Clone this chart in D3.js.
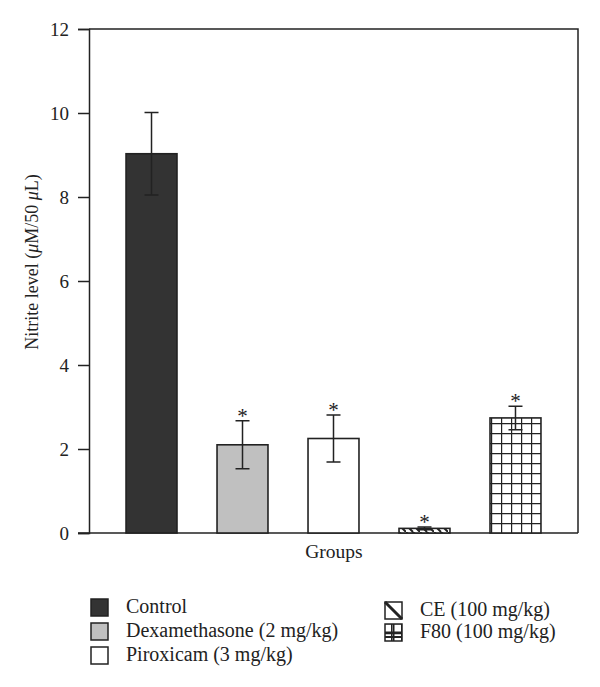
<!DOCTYPE html>
<html><head><meta charset="utf-8">
<script src="https://cdn.jsdelivr.net/npm/d3@7"></script>
<style>body{margin:0;background:#fff}</style>
</head><body>
<svg id="chart" width="600" height="687"></svg>
<script>
const categories = ["Control", "Dexamethasone (2 mg/kg)", "Piroxicam (3 mg/kg)", "CE (100 mg/kg)", "F80 (100 mg/kg)"];
const values = [9.03, 2.10, 2.25, 0.11, 2.74];
const errors = [0.98, 0.57, 0.56, 0.03, 0.28];
const significant = [false, true, true, true, true];
const yTicks = [0, 2, 4, 6, 8, 10, 12];

(function () {
const svg = d3.select("#chart");
const font = "'Liberation Serif', 'DejaVu Serif', serif";
const ink = "#222";
const pL = 89, pR = 578, pT = 29, pB = 533;

const defs = svg.append("defs");
const diag = defs.append("pattern").attr("id", "diag").attr("patternUnits", "userSpaceOnUse")
  .attr("width", 14).attr("height", 14).attr("x", 0).attr("y", 0);
diag.append("rect").attr("width", 14).attr("height", 14).attr("fill", "#fff");
diag.append("path").attr("d", "M-7,0 L7,14 M0,0 L14,14 M7,0 L21,14 M-7,-14 L21,14")
  .attr("stroke", ink).attr("stroke-width", 2);
const grid = defs.append("pattern").attr("id", "grid").attr("patternUnits", "userSpaceOnUse")
  .attr("width", 10).attr("height", 10).attr("x", 1).attr("y", 3);
grid.append("rect").attr("width", 10).attr("height", 10).attr("fill", "#fff");
grid.append("path").attr("d", "M0,0 L10,0 M0,0 L0,10").attr("stroke", ink).attr("stroke-width", 2.4);

const fills = ["#333333", "#c0c0c0", "#ffffff", "url(#diag)", "url(#grid)"];

const x = d3.scaleBand().domain(categories).range([pL, pR]).paddingInner(0.44).paddingOuter(0.407);
const y = d3.scaleLinear().domain([0, 12]).range([pB, pT]);

svg.append("path").attr("d", `M${pL},${pT} H${pR} V${pB}`)
  .attr("fill", "none").attr("stroke", ink).attr("stroke-width", 1.5);

const yAxis = svg.append("g").attr("transform", `translate(${pL},0)`)
  .call(d3.axisLeft(y).tickValues(yTicks).tickSize(11).tickPadding(9).tickFormat(d3.format("d")));
yAxis.select(".domain").attr("stroke", ink).attr("stroke-width", 1.5);
yAxis.selectAll(".tick line").attr("stroke", ink).attr("stroke-width", 1.5);
yAxis.selectAll(".tick text").attr("font-family", font).attr("font-size", 19).attr("fill", ink);

const xAxis = svg.append("g").attr("transform", `translate(0,${pB})`)
  .call(d3.axisBottom(x).tickSize(0).tickFormat(""));
xAxis.select(".domain").attr("d", `M${pL - 11},0 H${pR}`).attr("stroke", ink).attr("stroke-width", 1.5);

svg.append("g").selectAll("rect").data(categories).join("rect")
  .attr("x", d => x(d)).attr("width", x.bandwidth())
  .attr("y", (d, i) => y(values[i])).attr("height", (d, i) => y(0) - y(values[i]))
  .attr("fill", (d, i) => fills[i]).attr("stroke", ink).attr("stroke-width", 1.6);

const eb = svg.append("g").attr("stroke", ink).attr("stroke-width", 1.5).attr("fill", "none");
categories.forEach((c, i) => {
  const cx = x(c) + x.bandwidth() / 2;
  const hi = y(values[i] + errors[i]), lo = y(values[i] - errors[i]);
  eb.append("path").attr("d", `M${cx},${hi} V${lo} M${cx - 7},${hi} H${cx + 7} M${cx - 7},${lo} H${cx + 7}`);
  if (significant[i]) {
    svg.append("text").attr("x", cx).attr("y", hi + 2).attr("text-anchor", "middle")
      .attr("font-family", font).attr("font-size", 21).attr("fill", ink).text("*");
  }
});

svg.append("text").attr("x", 334).attr("y", 558).attr("text-anchor", "middle")
  .attr("font-family", font).attr("font-size", 19.5).attr("fill", ink).text("Groups");
const yt = svg.append("text").attr("transform", `translate(38,262) rotate(-90)`)
  .attr("text-anchor", "middle").attr("font-family", font).attr("font-size", 18).attr("fill", ink);
yt.append("tspan").text("Nitrite level (");
yt.append("tspan").attr("font-style", "italic").text("μ");
yt.append("tspan").text("M/50 ");
yt.append("tspan").attr("font-style", "italic").text("μ");
yt.append("tspan").text("L)");

const legendPos = [[91, 599], [91, 623], [91, 647], [385, 602], [385, 624]];
const leg = svg.append("g");
categories.forEach((c, i) => {
  const [lx, ly] = legendPos[i];
  leg.append("rect").attr("x", lx).attr("y", ly).attr("width", 17).attr("height", 17)
    .attr("fill", i === 3 ? "#fff" : fills[i]).attr("stroke", ink).attr("stroke-width", 1.5);
  if (i === 3) {
    leg.append("path").attr("d", `M${lx},${ly} L${lx + 17},${ly + 17}`).attr("stroke", ink).attr("stroke-width", 3);
  }
  if (i === 4) {
    leg.append("path").attr("d", `M${lx + 8.5},${ly} V${ly + 17} M${lx},${ly + 8.5} H${lx + 17} M${lx},${ly + 13} H${lx + 17}`)
      .attr("stroke", ink).attr("stroke-width", 2);
  }
  leg.append("text").attr("x", lx + 35).attr("y", ly + 14).attr("font-family", font)
    .attr("font-size", 20).attr("fill", ink).text(c);
});
})();
</script>
</body></html>
